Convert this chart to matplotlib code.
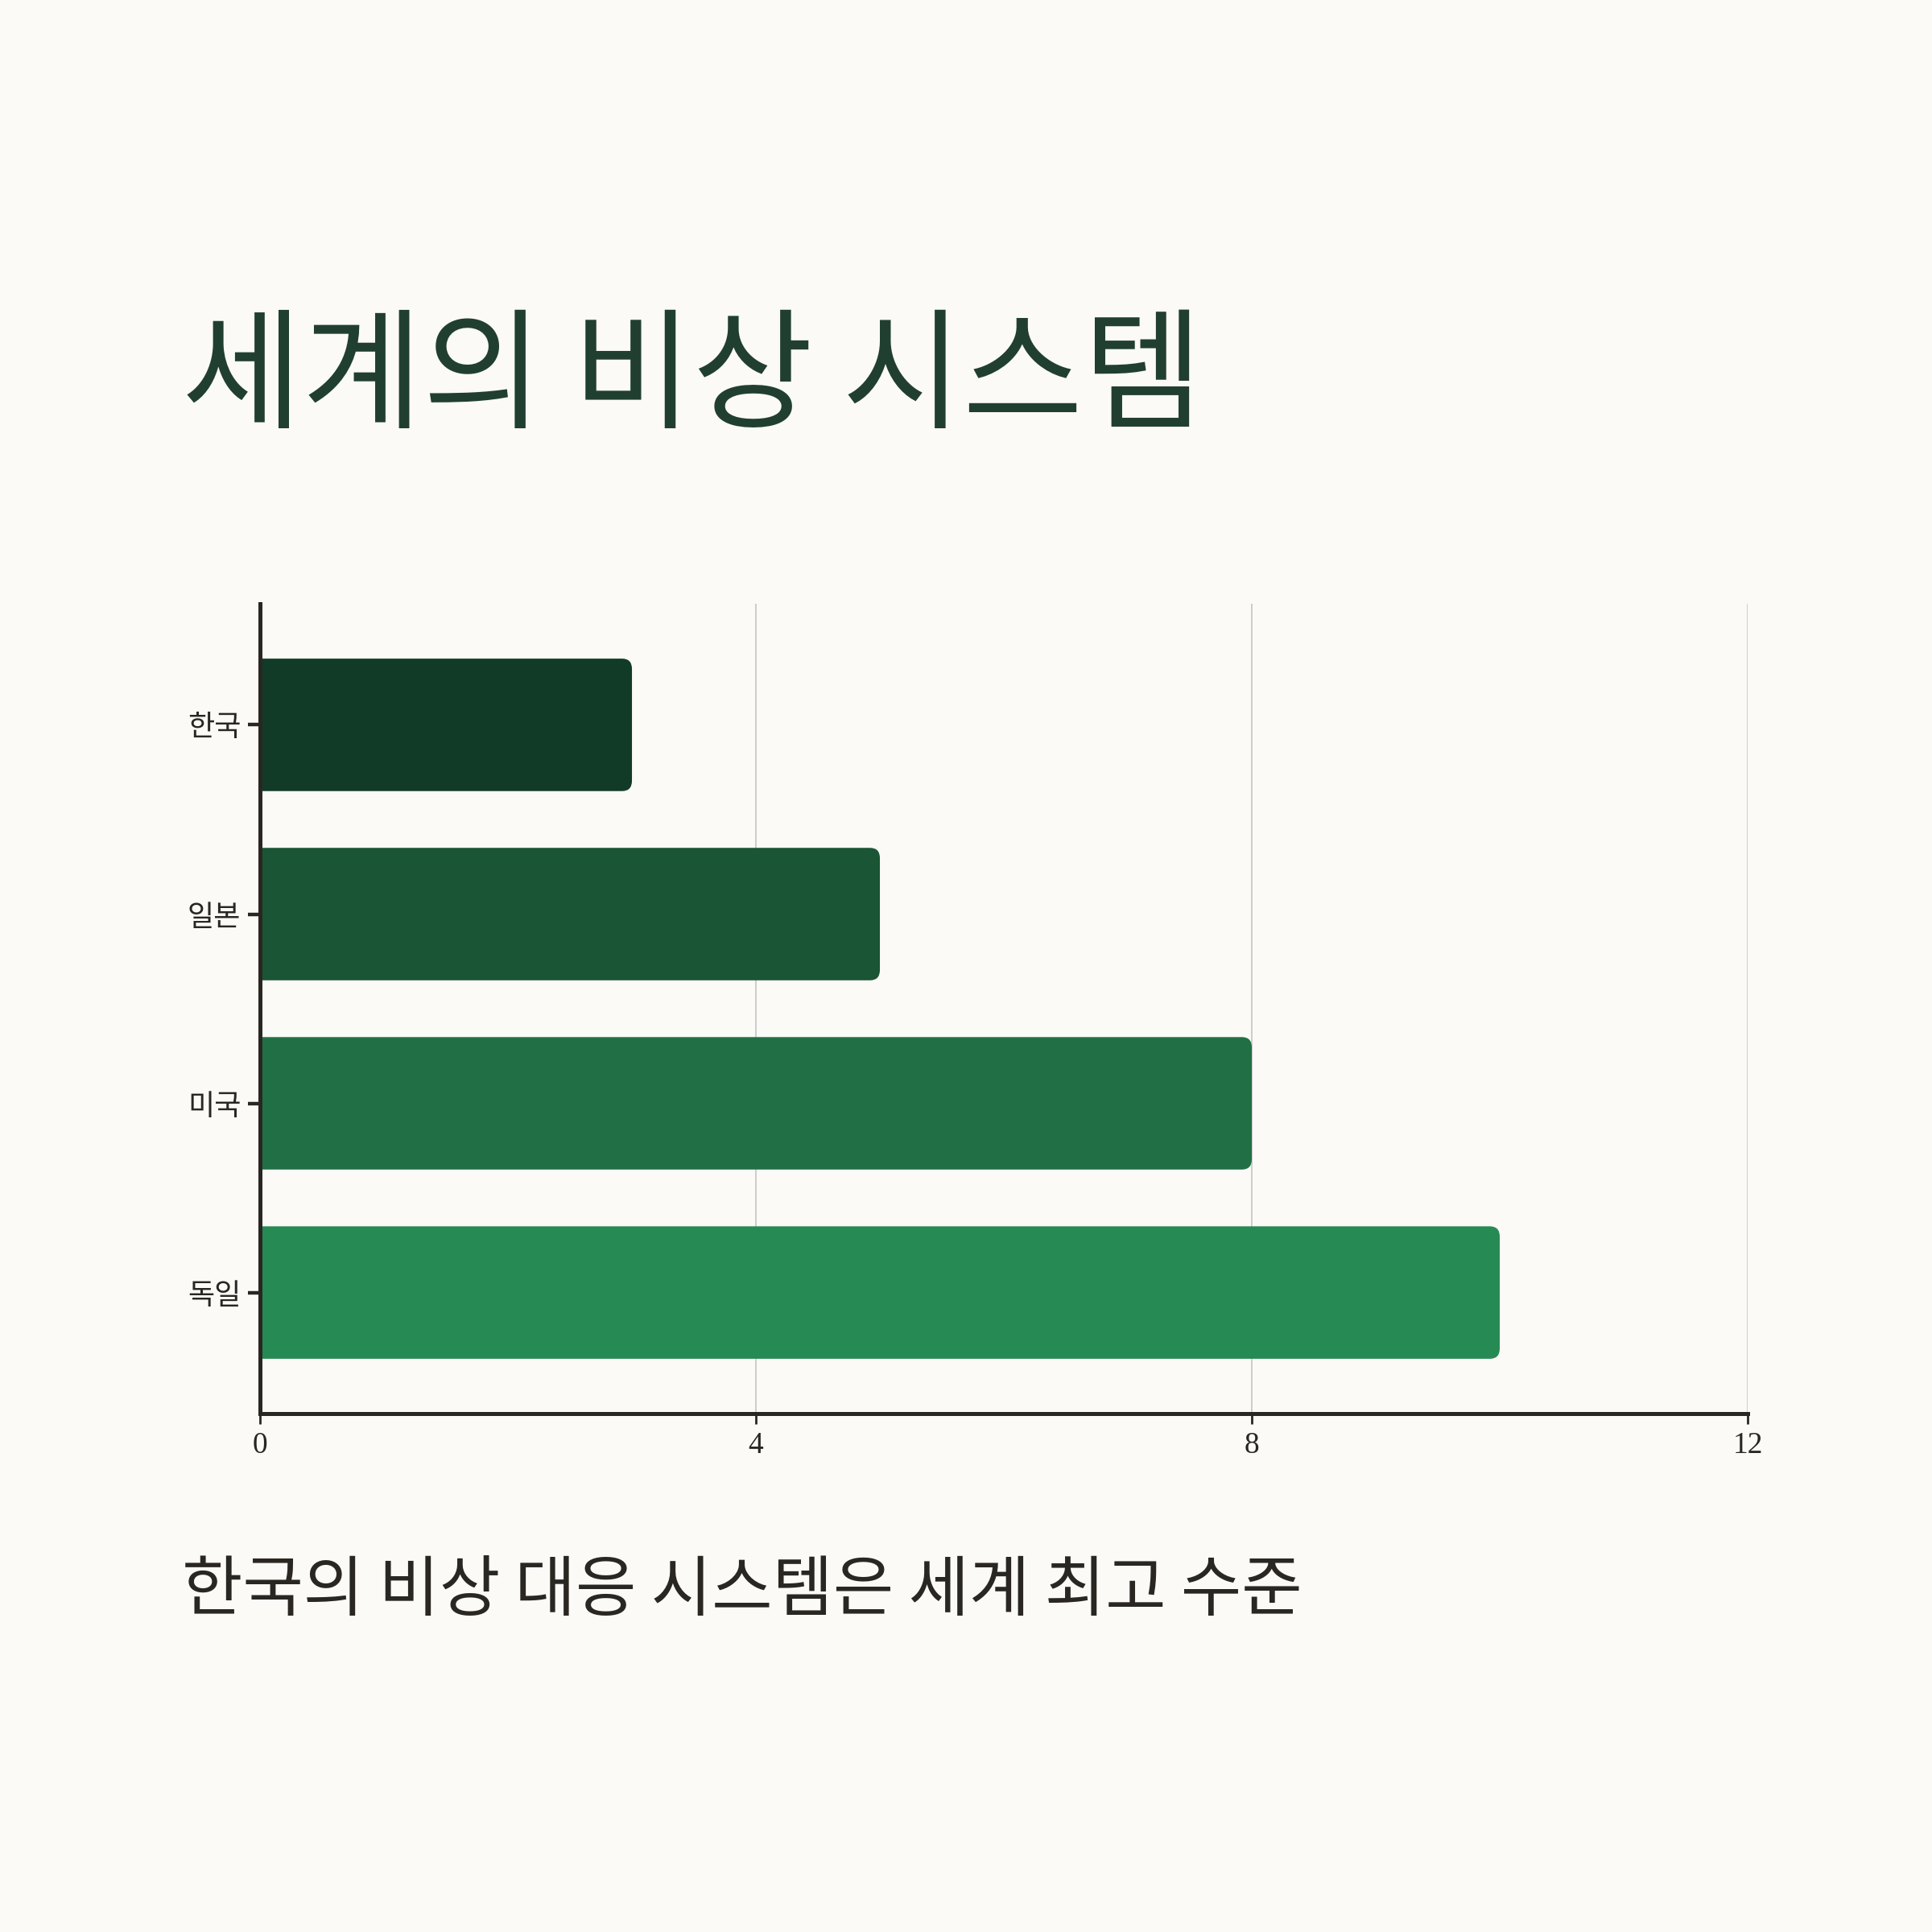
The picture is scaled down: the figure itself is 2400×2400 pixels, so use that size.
import matplotlib
matplotlib.use("Agg")
import matplotlib.pyplot as plt
from matplotlib.path import Path
from matplotlib.patches import PathPatch

# data
countries = ['한국', '일본', '미국', '독일']
scores = [3, 5, 8, 10]
bar_colors = ['#113b26', '#1a5535', '#217045', '#268a54']
x_ticks = [0, 4, 8, 12]

title = '세계의 비상 시스템'
subtitle = '한국의 비상 대응 시스템은 세계 최고 수준'

bg = '#fbfaf6'
ink = '#2a2622'
title_color = '#213f30'

plt.rcParams['font.family'] = ['Noto Sans CJK KR', 'DejaVu Sans']


def right_rounded(x, y, w, h, rx, ry):
    verts = [(x, y), (x + w - rx, y), (x + w, y), (x + w, y + ry),
             (x + w, y + h - ry), (x + w, y + h), (x + w - rx, y + h),
             (x, y + h), (x, y)]
    codes = [Path.MOVETO, Path.LINETO, Path.CURVE3, Path.CURVE3,
             Path.LINETO, Path.CURVE3, Path.CURVE3, Path.LINETO, Path.CLOSEPOLY]
    return Path(verts, codes)


fig = plt.figure(figsize=(12, 12), dpi=200, facecolor=bg)
ax = fig.add_axes([0.1346, 0.2683, 0.770, 0.4192])
ax.set_facecolor(bg)

ypos = list(range(len(countries)))
bars = ax.barh(ypos, scores, height=0.7, color=bar_colors)

# swap each bar for one with rounded right corners
for b in bars:
    c = b.get_facecolor()
    b.set_visible(False)
    p = right_rounded(b.get_x(), b.get_y(), b.get_width(), b.get_height(), 0.08, 0.055)
    ax.add_patch(PathPatch(p, fc=c, ec='none', zorder=2))

ax.set_xlim(0, 12)
ax.set_ylim(3.64, -0.64)
ax.set_xticks(x_ticks)
ax.set_xticklabels([str(t) for t in x_ticks], family='Liberation Serif',
                   fontsize=13.5, color=ink)
ax.set_yticks(ypos)
ax.set_yticklabels(countries, fontsize=13, color=ink)

ax.grid(axis='x', color='#cccccc', linewidth=0.7, zorder=0)
ax.set_axisbelow(True)
for s in ['top', 'right']:
    ax.spines[s].set_visible(False)
for s in ['left', 'bottom']:
    ax.spines[s].set_color(ink)
    ax.spines[s].set_linewidth(1.8)
    ax.spines[s].set_zorder(3)
ax.tick_params(axis='y', length=5.5, width=1.6, color=ink, pad=3)
ax.tick_params(axis='x', length=4.5, width=1.0, color=ink, pad=3.5)

fig.text(0.094, 0.838, title, fontsize=58.5, color=title_color, va='top', ha='left')
fig.text(0.094, 0.194, subtitle, fontsize=29.5, color=ink, va='top', ha='left')

fig.savefig('out.png', dpi=200, facecolor=bg)
